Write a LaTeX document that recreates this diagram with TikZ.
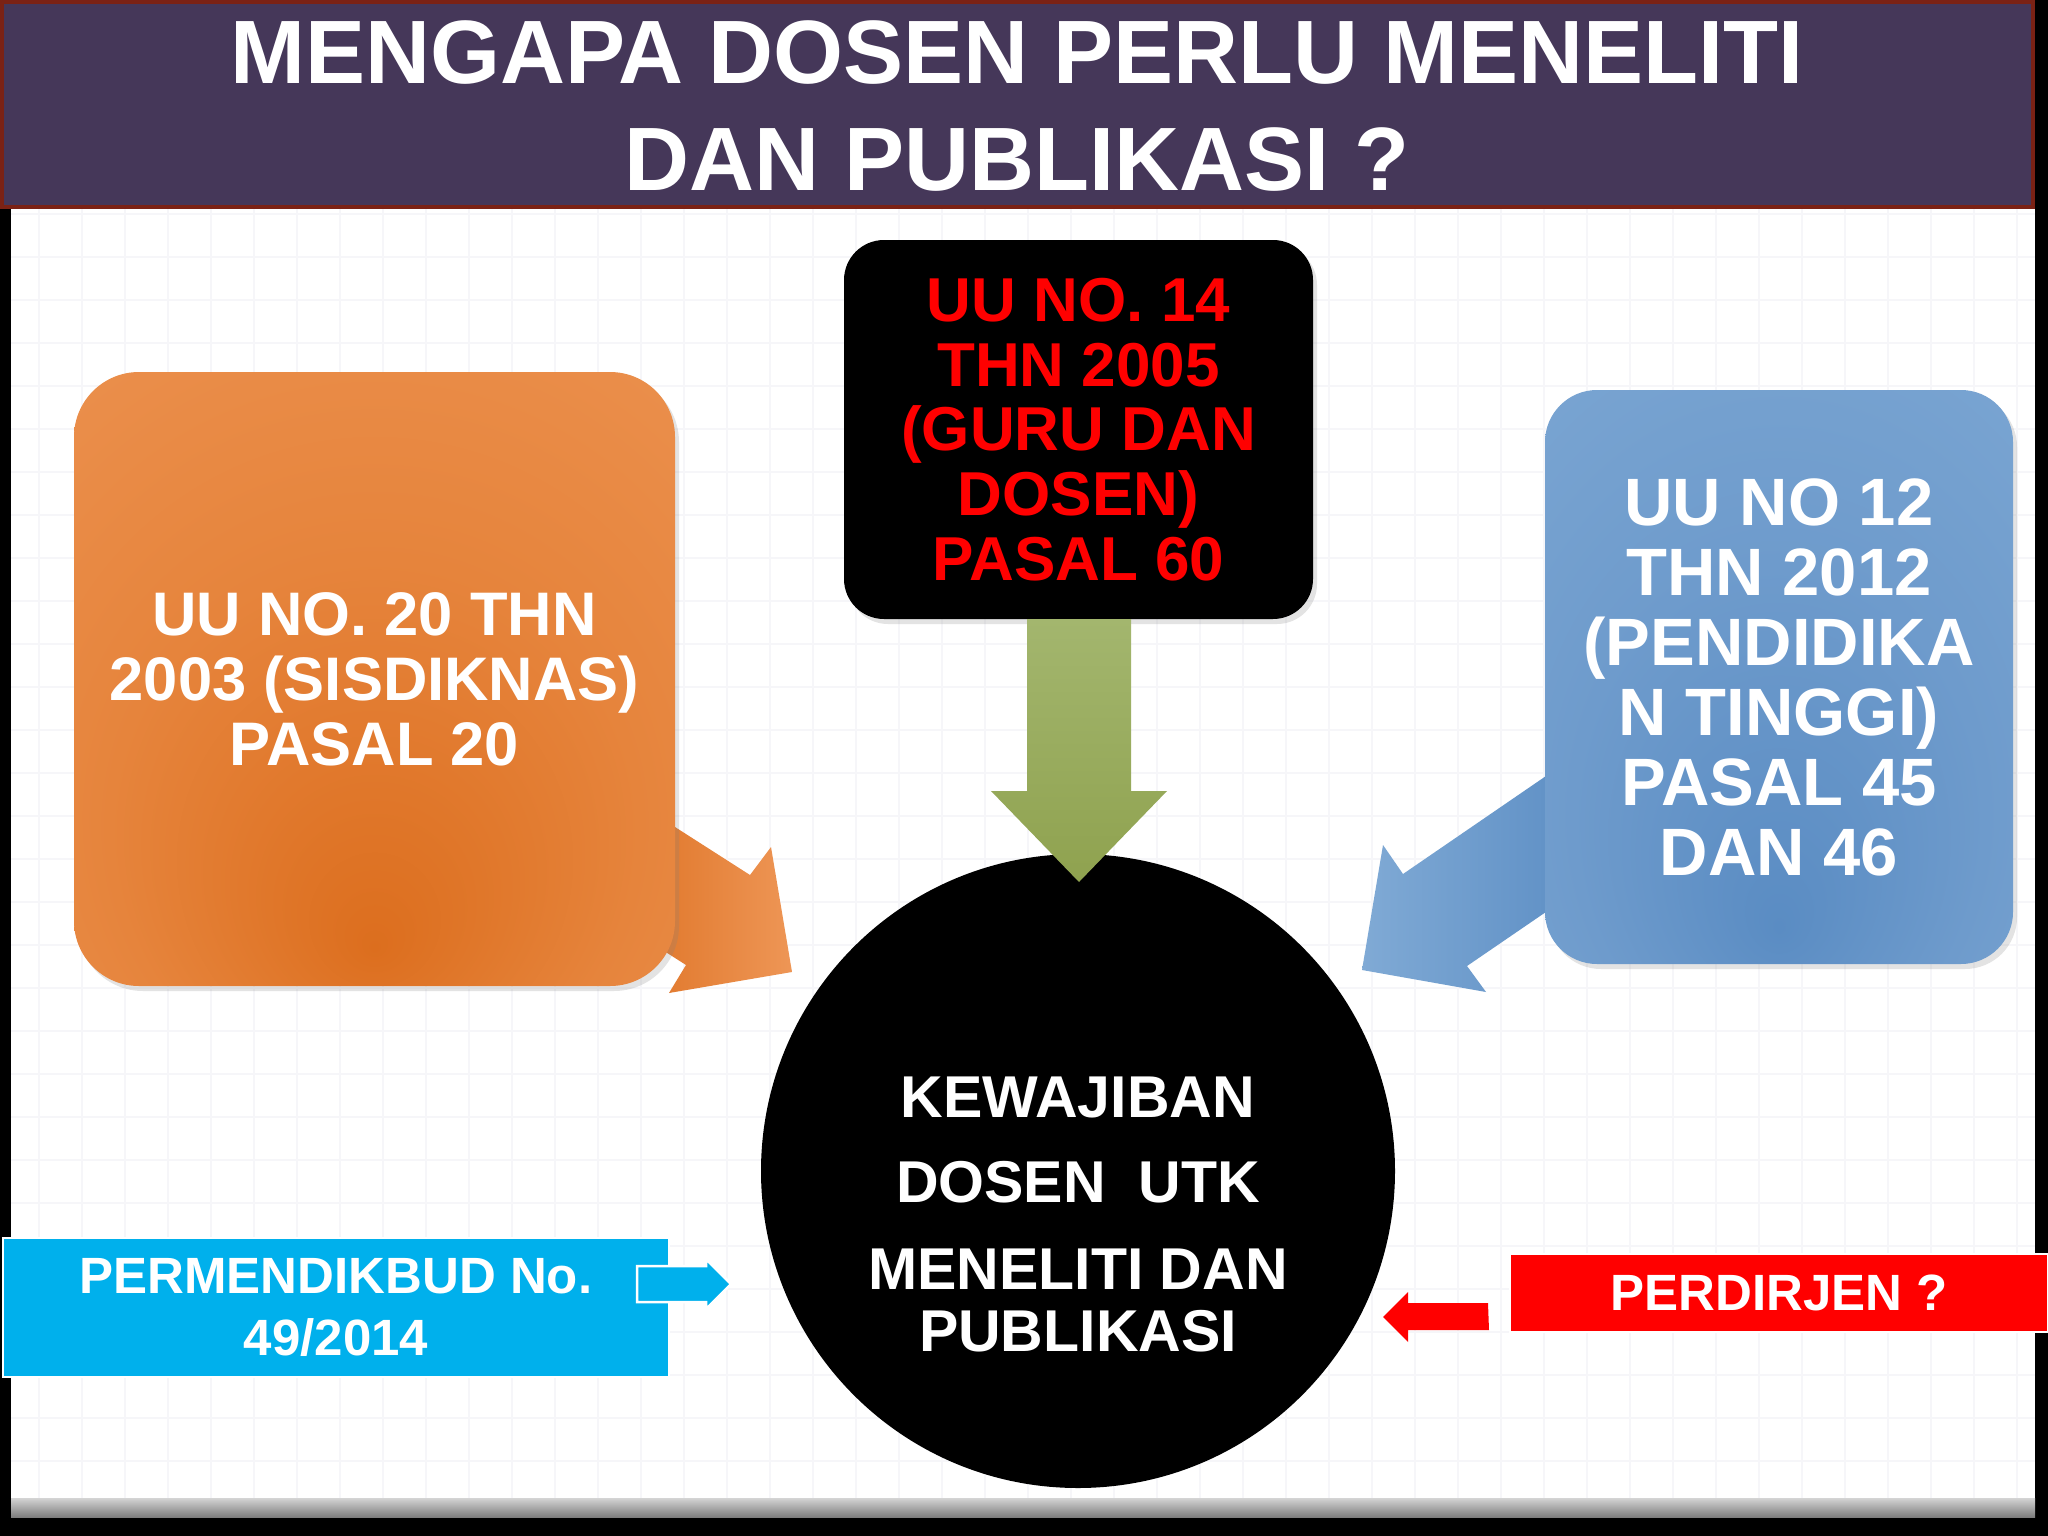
\documentclass[tikz,border=0pt]{standalone}
\usepackage{fontspec}
\setmainfont{Liberation Sans}
\usetikzlibrary{calc,shadows}
\definecolor{titlebg}{HTML}{453759}
\definecolor{titleborder}{HTML}{7B2215}
\definecolor{orL}{HTML}{EE9656}
\definecolor{orM}{HTML}{E6843C}
\definecolor{orD}{HTML}{DC6E1E}
\definecolor{blL}{HTML}{80AAD5}
\definecolor{blM}{HTML}{6E9BCC}
\definecolor{blD}{HTML}{5A8CC3}
\definecolor{grL}{HTML}{A3B66E}
\definecolor{grD}{HTML}{8FA24F}
\definecolor{cyanbox}{HTML}{00B0EC}
\definecolor{gridc}{HTML}{F6F6F9}
\definecolor{pageL}{HTML}{D4D4D4}
\definecolor{pageD}{HTML}{7E7E7E}
\definecolor{uured}{HTML}{FF0000}
\pgfdeclareradialshading{orshade}{\pgfpoint{0bp}{-22bp}}{color(0bp)=(orD); color(22bp)=(orM); color(50bp)=(orL)}
\pgfdeclareradialshading{blshade}{\pgfpoint{0bp}{-22bp}}{color(0bp)=(blD); color(22bp)=(blM); color(50bp)=(blL)}
\pgfdeclarelayer{page}
\pgfdeclarelayer{behind}
\pgfsetlayers{page,behind,main}
\begin{document}
\begin{tikzpicture}[x=1pt,y=-1pt,
  lawbox/.style={inner sep=0pt,align=center,text=white,
    drop shadow={opacity=0.22,shadow xshift=4pt,shadow yshift=-5pt}},
  lbl/.style={inner sep=0pt,align=center,text=white},
  flatbox/.style={inner sep=0pt,align=center,text=white,draw=white,line width=2},
  fnt/.style 2 args={font=\bfseries\fontsize{#1}{#2}\selectfont}]
\useasboundingbox (0,0) rectangle (2048,1536);
\begin{pgfonlayer}{page}
  \fill[black] (0,0) rectangle (2048,1536);
  \fill[white] (11,200) rectangle (2035,1498);
  \foreach \gx in {39,82,...,2034} \draw[gridc,line width=1.2] (\gx,209) -- (\gx,1498);
  \foreach \gy in {214,257,...,1497} \draw[gridc,line width=1.2] (11,\gy) -- (2035,\gy);
  \shade[top color=pageL,bottom color=pageD] (11,1498) rectangle (2035,1517);
\end{pgfonlayer}

% title
\node[draw=titleborder,line width=4,fill=titlebg,minimum width=2031,minimum height=205,inner sep=0] (titlebar) at (1017.5,104.5) {};
\node[lbl,fnt={90}{107}] (title) at (1017,106) {MENGAPA DOSEN PERLU MENELITI\\DAN PUBLIKASI ?};

% law boxes
\node[lawbox,shading=orshade,minimum width=601,minimum height=614,rounded corners=65,fnt={61.5}{65}] (uu20) at (374.5,679) {UU NO. 20 THN\\2003 (SISDIKNAS)\\PASAL 20};
\node[lawbox,fill=black,text=uured,minimum width=469,minimum height=379,rounded corners=40,fnt={62}{64.75}] (uu14) at (1078.5,429.5) {UU NO. 14\\THN 2005\\(GURU DAN\\DOSEN)\\PASAL 60};
\node[lawbox,shading=blshade,minimum width=468,minimum height=574,rounded corners=52,fnt={67}{70}] (uu12) at (1779,677) {UU NO 12\\THN 2012\\(PENDIDIKA\\N TINGGI)\\PASAL 45\\DAN 46};

% centre circle
\node[circle,fill=black,minimum size=634,inner sep=0] (kew) at (1078,1171) {};
\node[lbl,fnt={59}{62}] (kewtext) at (1078,1214) {KEWAJIBAN\\[23pt]DOSEN\ \ UTK\\[25pt]MENELITI DAN\\PUBLIKASI};

% bottom boxes
\node[flatbox,fill=cyanbox,minimum width=666,minimum height=139,fnt={51}{62}] (perm) at (336,1307.5) {PERMENDIKBUD No.\\49/2014};
\node[flatbox,fill=uured,minimum width=538,minimum height=78,fnt={51}{60}] (perd) at (1779,1293) {PERDIRJEN ?};

% block arrows behind the side boxes
\begin{pgfonlayer}{behind}
  \path[left color=orD,right color=orL] (600,779) -- (750,875) -- (771,847) -- (792,972) -- (669,993) -- (686,965) -- (611,917) -- cycle;
  \path[left color=blL,right color=blD] (1600,739) -- (1403,874) -- (1383,845) -- (1362,970) -- (1486,992) -- (1467,966) -- (1600,875) -- cycle;
\end{pgfonlayer}

% green arrow from the black box to the circle
\path[top color=grL,bottom color=grD] (uu14.south -| 1027,0) -- (1027,791) -- (991,791) -- (1079,882) -- (1167,791) -- (1131,791) -- (uu14.south -| 1131,0) -- cycle;

% small arrows
\path[fill=cyanbox,draw=white,line width=2.5] (637,1266) -- (706,1266) -- (706,1259) -- (731,1284) -- (706,1309) -- (706,1302) -- (637,1302) -- cycle;
\fill[uured] (perd.west |- 0,1303) ++(-21,0) -- (1408,1303) -- (1408,1292) -- (1383,1317) -- (1408,1342) -- (1408,1330) -- (1489,1330) -- cycle;
\end{tikzpicture}
\end{document}
